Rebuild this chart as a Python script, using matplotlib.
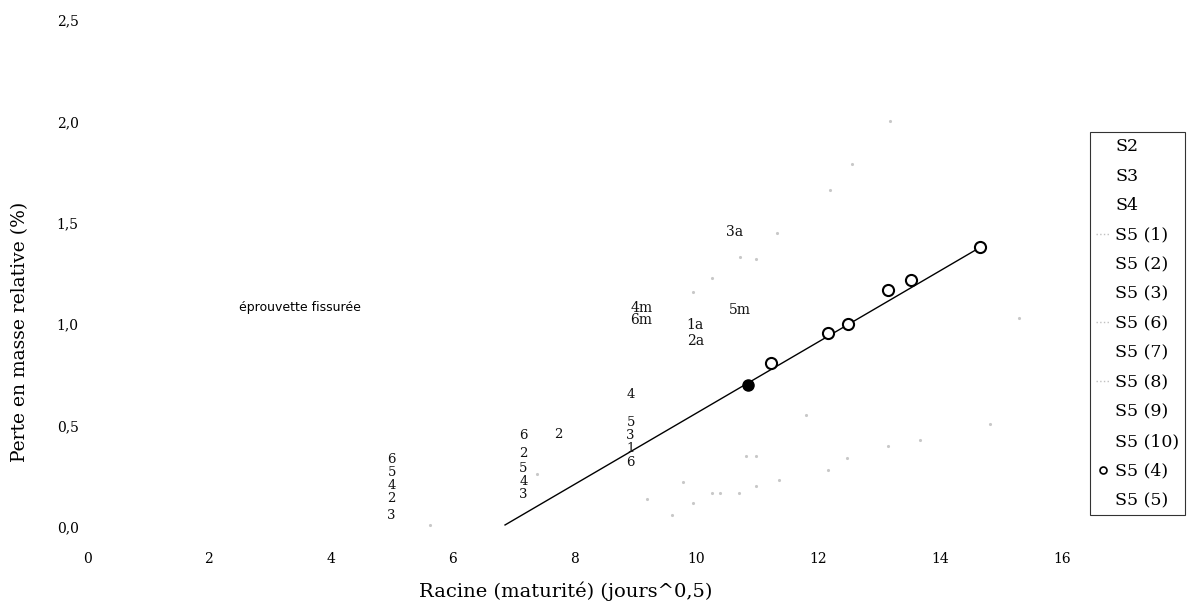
import matplotlib
matplotlib.use("Agg")
import matplotlib.pyplot as plt
from matplotlib.lines import Line2D

plt.rcParams['font.family'] = ['DejaVu Serif']

# ---- data ----
x_ticks = [0, 2, 4, 6, 8, 10, 12, 14, 16]
y_ticks = [0.0, 0.5, 1.0, 1.5, 2.0, 2.5]
y_tick_labels = ["0,0", "0,5", "1,0", "1,5", "2,0", "2,5"]

# S5 (4): open circles
s54_x = [11.23, 12.16, 12.48, 13.15, 13.53, 14.66]
s54_y = [0.81, 0.955, 1.00, 1.17, 1.22, 1.38]
# filled point
fill_x = [10.85]
fill_y = [0.70]
# trend line endpoints
trend_x = [6.86, 14.72]
trend_y = [0.01, 1.39]

# faint (faded) series
faint_up_x = [9.94, 10.26, 10.72, 10.98, 11.32, 12.19, 12.55, 13.18]
faint_up_y = [1.16, 1.23, 1.33, 1.32, 1.45, 1.66, 1.79, 2.00]
faint_lo_x = [9.19, 9.60, 9.78, 9.94, 10.26, 10.39, 10.70, 10.98, 10.81, 10.98,
              11.36, 12.16, 12.47, 13.14, 13.67, 14.82, 5.63, 7.38, 11.80, 15.30]
faint_lo_y = [0.14, 0.06, 0.22, 0.12, 0.17, 0.17, 0.17, 0.20, 0.35, 0.35,
              0.23, 0.28, 0.34, 0.40, 0.43, 0.51, 0.01, 0.26, 0.55, 1.03]

# data labels
lab_text = ["6", "5", "4", "2", "3",
            "6", "2", "2", "5", "4", "3",
            "4", "5", "3", "1", "6",
            "4m", "6m", "1a", "2a", "5m", "3a"]
lab_x = [5.0, 5.0, 5.0, 5.0, 5.0,
         7.16, 7.74, 7.16, 7.16, 7.16, 7.16,
         8.92, 8.92, 8.92, 8.92, 8.92,
         9.1, 9.1, 9.98, 9.98, 10.72, 10.62]
lab_y = [0.335, 0.27, 0.205, 0.14, 0.055,
         0.45, 0.455, 0.36, 0.29, 0.225, 0.16,
         0.655, 0.515, 0.45, 0.385, 0.32,
         1.08, 1.02, 0.995, 0.915, 1.07, 1.455]

legend_names = ["S2", "S3", "S4", "S5 (1)", "S5 (2)", "S5 (3)", "S5 (6)",
                "S5 (7)", "S5 (8)", "S5 (9)", "S5 (10)", "S5 (4)", "S5 (5)"]

# ---- figure ----
fig = plt.figure(figsize=(11.87, 6.02), dpi=100)
ax = fig.add_axes([87/1187, 1-527/602, (1062-87)/1187, (527-20)/602])
ax.set_xlim(0, 16)
ax.set_ylim(0, 2.5)
for s in ax.spines.values():
    s.set_visible(False)
ax.set_xticks(x_ticks)
ax.set_xticklabels([str(v) for v in x_ticks])
ax.set_yticks(y_ticks)
ax.set_yticklabels(y_tick_labels)
ax.tick_params(axis='both', length=0, labelsize=10)
ax.tick_params(axis='x', pad=18)
ax.tick_params(axis='y', pad=6)

ax.plot(faint_up_x, faint_up_y, ls='none', marker='.', ms=2.5, color='#c8c8c8')
ax.plot(faint_lo_x, faint_lo_y, ls='none', marker='.', ms=2.5, color='#c8c8c8')
ax.plot(trend_x, trend_y, color='black', lw=1.0)
ax.plot(s54_x, s54_y, ls='none', marker='o', ms=8, mfc='white', mec='black', mew=1.5)
ax.plot(fill_x, fill_y, ls='none', marker='o', ms=8, color='black')

for t, x, y in zip(lab_text, lab_x, lab_y):
    fs = 10 if len(t) > 1 else 9.5
    ax.text(x, y, t, ha='center', va='center', fontsize=fs, color='#111111')

ax.text(3.5, 1.08, "éprouvette fissurée", ha='center', va='center', fontsize=9,
        family='DejaVu Sans')

fig.text(20/1187, 1-332/602, "Perte en masse relative (%)", rotation=90,
         ha='center', va='center', fontsize=13.5)
fig.text(566/1187, 1-591/602, "Racine (maturité) (jours^0,5)", ha='center',
         va='center', fontsize=14)

handles = []
for n in legend_names:
    if n == "S5 (4)":
        h = Line2D([], [], ls='none', marker='o', ms=5, mfc='white', mec='black', mew=1.2)
    elif n in ("S5 (1)", "S5 (6)", "S5 (8)"):
        h = Line2D([], [], ls=':', lw=1, color='#c0c0c0')
    else:
        h = Line2D([], [], ls='none')
    handles.append(h)
leg = fig.legend(handles, legend_names, loc='upper left',
                 bbox_to_anchor=(1090/1187, 1-132/602), frameon=True,
                 fancybox=False, edgecolor='black', fontsize=12.5,
                 handlelength=0.8, handletextpad=0.3, borderpad=0.35,
                 labelspacing=0.72, borderaxespad=0)
leg.get_frame().set_linewidth(0.8)

fig.savefig("out.png", dpi=100)
